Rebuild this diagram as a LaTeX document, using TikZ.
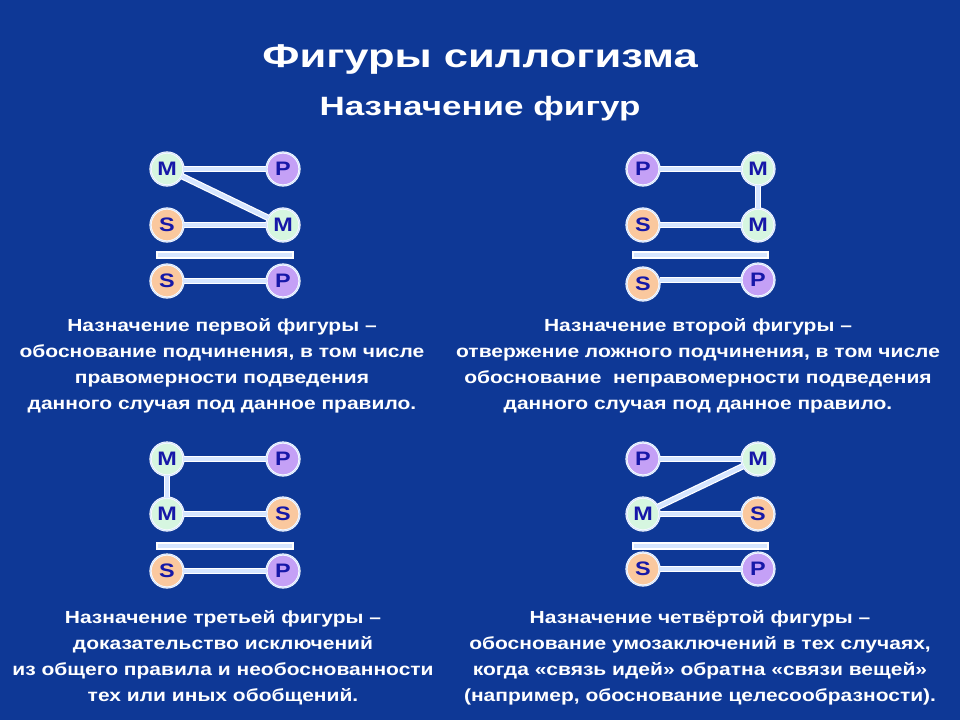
\documentclass[tikz,border=0pt]{standalone}
\usepackage{fontspec}
\setmainfont{Liberation Sans}[FakeStretch=1.2]
\newfontfamily\headfont{Liberation Sans}[FakeStretch=1.32]

\definecolor{bgblue}{RGB}{14,56,150}
\definecolor{mfill}{RGB}{214,246,224}
\definecolor{pfill}{RGB}{196,160,246}
\definecolor{sfill}{RGB}{250,200,158}
\definecolor{letterblue}{RGB}{22,24,168}
\definecolor{linkfill}{RGB}{214,230,255}

\tikzset{every picture/.style={line width=0.75pt}}
\tikzset{
  term/.style={circle, minimum size=33pt, inner sep=0pt, draw=white, line width=0.6pt,
    double=linkfill, double distance=1pt, text=letterblue,
    font=\fontsize{19.5}{19.5}\selectfont\bfseries},
  mterm/.style={term, fill=mfill},
  pterm/.style={term, fill=pfill},
  sterm/.style={term, fill=sfill},
  link/.style={draw=white, line width=1.2pt, double=linkfill, double distance=4pt},
  bar/.style={draw=white, line width=1.2pt, fill=linkfill},
  caption/.style={text=white, align=center, inner sep=0pt,
    font=\fontsize{17.5}{26}\selectfont\bfseries},
}

\begin{document}
\begin{tikzpicture}[x=1pt,y=1pt,yscale=-1,xscale=1]
%Shape: Background
\fill [bgblue] (0,0) rectangle (960,720) ;
\useasboundingbox (0,0) rectangle (960,720) ;

% Title
\node (title) [anchor=base, text=white, inner sep=0pt, font=\headfont\fontsize{33}{33}\selectfont\bfseries] at (480,67) {Фигуры силлогизма};
\node (subtitle) [anchor=base, text=white, inner sep=0pt, font=\headfont\fontsize{26.5}{26.5}\selectfont\bfseries] at (480,115) {Назначение фигур};

%Figure 1
\node (am1) [mterm] at (167,169) {M};
\node (ap1) [pterm] at (283,169) {P};
\node (as2) [sterm] at (167,225) {S};
\node (am2) [mterm] at (283,225) {M};
\node (as3) [sterm] at (167,281) {S};
\node (ap3) [pterm] at (283,281) {P};
\draw [link] (am1) -- (ap1) ;
\draw [link] (am1) -- (am2) ;
\draw [link] (as2) -- (am2) ;
\draw [link] (as3) -- (ap3) ;
\draw [bar] (157,252) rectangle (293,258) ;

%Figure 2
\node (bp1) [pterm] at (643,169) {P};
\node (bm1) [mterm] at (758,169) {M};
\node (bs2) [sterm] at (643,225) {S};
\node (bm2) [mterm] at (758,225) {M};
\node (bs3) [sterm] at (643,284) {S};
\node (bp3) [pterm] at (758,280) {P};
\draw [link] (bp1) -- (bm1) ;
\draw [link] (bm1) -- (bm2) ;
\draw [link] (bs2) -- (bm2) ;
\draw [link] (bs3.east |- bp3) -- (bp3) ;
\draw [bar] (633,252) rectangle (768,258) ;

%Figure 3
\node (cm1) [mterm] at (167,459) {M};
\node (cp1) [pterm] at (283,459) {P};
\node (cm2) [mterm] at (167,514) {M};
\node (cs2) [sterm] at (283,514) {S};
\node (cs3) [sterm] at (167,571) {S};
\node (cp3) [pterm] at (283,571) {P};
\draw [link] (cm1) -- (cp1) ;
\draw [link] (cm1) -- (cm2) ;
\draw [link] (cm2) -- (cs2) ;
\draw [link] (cs3) -- (cp3) ;
\draw [bar] (157,543) rectangle (293,549) ;

%Figure 4
\node (dp1) [pterm] at (643,459) {P};
\node (dm1) [mterm] at (758,459) {M};
\node (dm2) [mterm] at (643,514) {M};
\node (ds2) [sterm] at (758,514) {S};
\node (ds3) [sterm] at (643,569) {S};
\node (dp3) [pterm] at (758,569) {P};
\draw [link] (dp1) -- (dm1) ;
\draw [link] (dm2) -- (dm1) ;
\draw [link] (dm2) -- (ds2) ;
\draw [link] (ds3) -- (dp3) ;
\draw [bar] (633,543) rectangle (768,549) ;

% Text Node
\node (capa) [caption, anchor=north] at (222,318) {Назначение первой фигуры –\\обоснование подчинения, в том числе\\правомерности подведения\\данного случая под данное правило.};
% Text Node
\node (capb) [caption, anchor=north] at (698,318) {Назначение второй фигуры –\\отвержение ложного подчинения, в том числе\\обоснование \ неправомерности подведения\\данного случая под данное правило.};
% Text Node
\node (capc) [caption, anchor=north] at (223,610) {Назначение третьей фигуры –\\доказательство исключений\\из общего правила и необоснованности\\тех или иных обобщений.};
% Text Node
\node (capd) [caption, anchor=north] at (700,610) {Назначение четвёртой фигуры –\\обоснование умозаключений в тех случаях,\\когда «связь идей» обратна «связи вещей»\\(например, обоснование целесообразности).};

\end{tikzpicture}
\end{document}
